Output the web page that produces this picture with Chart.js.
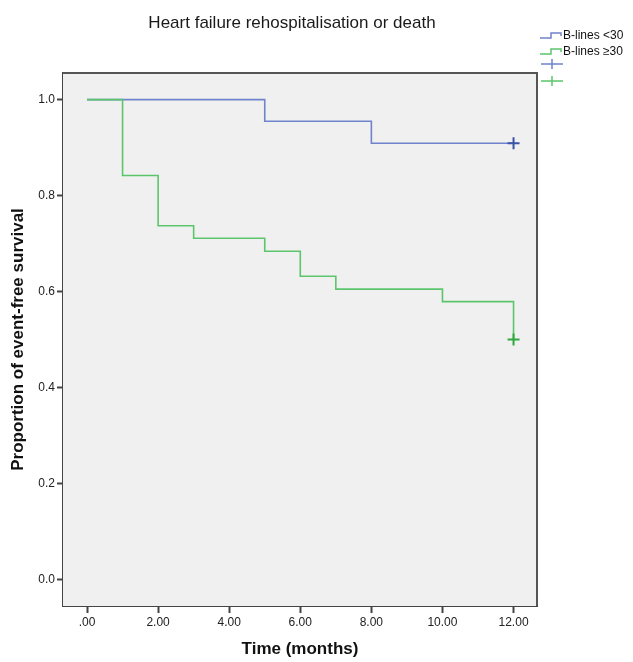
<!DOCTYPE html>
<html>
<head>
<meta charset="utf-8">
<script src="https://cdn.jsdelivr.net/npm/chart.js@4/dist/chart.umd.min.js"></script>
<style>
  html, body { margin: 0; padding: 0; background: #fff; }
  #wrap { width: 633px; height: 662px; }
</style>
</head>
<body>
<div id="wrap"><canvas id="mycanvas" width="633" height="662"></canvas></div>
<script>
// Kaplan-Meier steps (time in months, survival proportion)
var lowTimes = [0, 5, 8, 12];
var lowSurv = [1.0, 0.955, 0.909, 0.909];
var highTimes = [0, 1, 2, 3, 5, 6, 7, 10, 12];
var highSurv = [1.0, 0.842, 0.737, 0.711, 0.684, 0.632, 0.605, 0.579, 0.5];
// censored observations
var lowCensorTime = [12];
var lowCensorSurv = [0.909];
var highCensorTime = [12];
var highCensorSurv = [0.5];

var xTicks = [0, 2, 4, 6, 8, 10, 12];
var yTicks = [0, 0.2, 0.4, 0.6, 0.8, 1.0];
var seriesNames = ["B-lines <30", "B-lines \u226530"];

var blueLine = "#6f83cc";
var greenLine = "#5cc56c";
var blueMark = "#3a52a8";
var greenMark = "#2fa83f";
var fontFam = "'Liberation Sans', Arial, sans-serif";

function toPoints(xs, ys) {
  var out = [];
  for (var i = 0; i < xs.length; i++) out.push({x: xs[i], y: ys[i]});
  return out;
}

// grey plot background + frame, title and legend
var decor = {
  id: 'decor',
  beforeDatasetsDraw: function(chart) {
    var a = chart.chartArea, ctx = chart.ctx;
    ctx.save();
    ctx.fillStyle = "#f0f0f0";
    ctx.fillRect(a.left, a.top, a.right - a.left, a.bottom - a.top);
    ctx.restore();
  },
  afterDraw: function(chart) {
    var a = chart.chartArea, ctx = chart.ctx;
    ctx.save();
    ctx.strokeStyle = "#555";
    ctx.lineWidth = 2;
    ctx.beginPath();
    ctx.moveTo(a.left, a.top);
    ctx.lineTo(a.right, a.top);
    ctx.lineTo(a.right, a.bottom);
    ctx.stroke();

    // title
    ctx.fillStyle = "#1a1a1a";
    ctx.font = "17px " + fontFam;
    ctx.textAlign = "center";
    ctx.textBaseline = "alphabetic";
    ctx.fillText("Heart failure rehospitalisation or death", 292, 28);

    // legend
    ctx.font = "12px " + fontFam;
    ctx.textAlign = "left";
    ctx.textBaseline = "middle";
    var rows = [[blueLine, 36], [greenLine, 52]];
    for (var i = 0; i < rows.length; i++) {
      var y = rows[i][1];
      ctx.strokeStyle = rows[i][0];
      ctx.lineWidth = 1.5;
      ctx.beginPath();
      ctx.moveTo(540, y + 2);
      ctx.lineTo(551, y + 2);
      ctx.lineTo(551, y - 3);
      ctx.lineTo(561, y - 3);
      ctx.lineTo(561, y);
      ctx.stroke();
      ctx.fillStyle = "#111";
      ctx.fillText(seriesNames[i], 563, y);
    }
    var crosses = [[blueLine, 64], [greenLine, 81]];
    for (var j = 0; j < crosses.length; j++) {
      var cy = crosses[j][1];
      ctx.strokeStyle = crosses[j][0];
      ctx.lineWidth = 1.5;
      ctx.beginPath();
      ctx.moveTo(541, cy);
      ctx.lineTo(563, cy);
      ctx.moveTo(552, cy - 5);
      ctx.lineTo(552, cy + 5);
      ctx.stroke();
    }
    ctx.restore();
  }
};

var ctx = document.getElementById("mycanvas");

// dataset 0 is drawn on top, so green goes first (it covers blue at the start)
var KMChart = new Chart(ctx, {
  type: 'line',
  data: {
    datasets: [
      {
        label: "censored high",
        data: toPoints(highCensorTime, highCensorSurv),
        showLine: false,
        pointStyle: 'cross',
        pointRadius: 6,
        borderColor: greenMark,
        borderWidth: 2
      },
      {
        label: "censored low",
        data: toPoints(lowCensorTime, lowCensorSurv),
        showLine: false,
        pointStyle: 'cross',
        pointRadius: 6,
        borderColor: blueMark,
        borderWidth: 2
      },
      {
        label: seriesNames[1],
        data: toPoints(highTimes, highSurv),
        borderColor: greenLine,
        borderWidth: 1.6,
        stepped: true,
        pointRadius: 0,
        fill: false
      },
      {
        label: seriesNames[0],
        data: toPoints(lowTimes, lowSurv),
        borderColor: blueLine,
        borderWidth: 1.6,
        stepped: true,
        pointRadius: 0,
        fill: false
      }
    ]
  },
  options: {
    responsive: false,
    animation: false,
    layout: { padding: { left: 0, right: 96, top: 73, bottom: 0 } },
    scales: {
      x: {
        type: 'linear',
        min: -0.676,
        max: 12.66,
        afterBuildTicks: function(s) { s.ticks = xTicks.map(function(v) { return {value: v}; }); },
        afterFit: function(s) { s.height = 56; },
        grid: { drawOnChartArea: false, drawTicks: true, tickLength: 7, tickColor: "#444", tickWidth: 2 },
        border: { color: "#444", width: 2 },
        ticks: {
          color: "#222",
          padding: 2,
          maxRotation: 0,
          font: { family: fontFam, size: 12 },
          callback: function(v) { return v === 0 ? ".00" : v.toFixed(2); }
        },
        title: {
          display: true,
          text: "Time (months)",
          color: "#111",
          padding: { top: 0, bottom: 2 },
          font: { family: fontFam, size: 17, weight: 'bold' }
        }
      },
      y: {
        type: 'linear',
        min: -0.0556,
        max: 1.0556,
        afterBuildTicks: function(s) { s.ticks = yTicks.map(function(v) { return {value: v}; }); },
        afterFit: function(s) { s.width = 63; },
        grid: { drawOnChartArea: false, drawTicks: true, tickLength: 6, tickColor: "#444", tickWidth: 2 },
        border: { color: "#444", width: 2 },
        ticks: {
          color: "#222",
          padding: 2,
          font: { family: fontFam, size: 12 },
          callback: function(v) { return v.toFixed(1); }
        },
        title: {
          display: true,
          text: "Proportion of event-free survival",
          color: "#111",
          padding: { top: 8, bottom: 0 },
          font: { family: fontFam, size: 17, weight: 'bold' }
        }
      }
    },
    plugins: {
      legend: { display: false },
      title: { display: false },
      tooltip: { enabled: false }
    }
  },
  plugins: [decor]
});
</script>
</body>
</html>
